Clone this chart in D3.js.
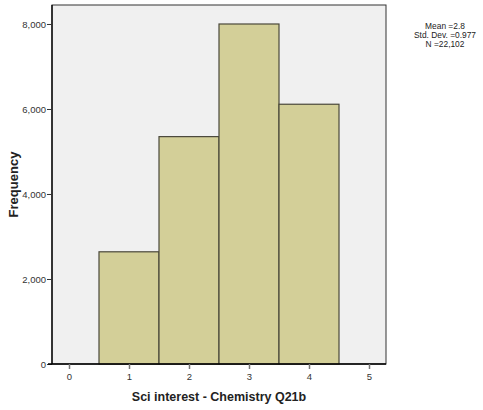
<!DOCTYPE html>
<html>
<head>
<meta charset="utf-8">
<script src="https://cdn.jsdelivr.net/npm/d3@7"></script>
<style>
  body { margin: 0; background: #fff; }
  text { font-family: "Liberation Sans", Arial, sans-serif; }
</style>
</head>
<body>
<div id="chart"></div>
<script>
var svgWidth = 483;
var svgHeight = 410;

// histogram data
var binCenters = [1, 2, 3, 4];
var frequencies = [2640, 5350, 8000, 6112];
var xTicks = [0, 1, 2, 3, 4, 5];
var yTicks = [0, 2000, 4000, 6000, 8000];
var statsLines = ["Mean =2.8", "Std. Dev. =0.977", "N =22,102"];

var plot = { left: 52, top: 5, right: 386, bottom: 364 };

var svg = d3.select("#chart")
  .append("svg")
  .attr("width", svgWidth)
  .attr("height", svgHeight);

var x = d3.scaleLinear()
  .domain([-0.2833, 5.2833])
  .range([plot.left, plot.right]);
var y = d3.scaleLinear()
  .domain([0, 8447])
  .range([plot.bottom, plot.top]);

// plot background
svg.append("rect")
  .attr("x", plot.left)
  .attr("y", plot.top)
  .attr("width", plot.right - plot.left)
  .attr("height", plot.bottom - plot.top)
  .attr("fill", "#f0f0f0")
  .attr("stroke", "#333")
  .attr("stroke-width", 1);

// bars
svg.selectAll("rect.bar")
  .data(binCenters)
  .enter()
  .append("rect")
  .attr("class", "bar")
  .attr("x", d => x(d - 0.5))
  .attr("y", (d, i) => y(frequencies[i]))
  .attr("width", d => x(d + 0.5) - x(d - 0.5))
  .attr("height", (d, i) => y(0) - y(frequencies[i]))
  .attr("fill", "#d3cf98")
  .attr("stroke", "#4a483a")
  .attr("stroke-width", 1.2);

// y axis
var leftAxis = d3.axisLeft(y)
  .tickValues(yTicks)
  .tickSize(5)
  .tickPadding(1)
  .tickFormat(d3.format(","));
var gy = svg.append("g")
  .attr("transform", `translate(${plot.left},0)`)
  .call(leftAxis);
gy.select(".domain").attr("stroke", "#000").attr("stroke-width", 1.3)
  .attr("d", `M0,${plot.top}V${plot.bottom}`);
gy.selectAll(".tick line").attr("stroke", "#333");
gy.selectAll(".tick text").attr("font-size", 9.5).attr("fill", "#333")
  .style("font-family", "Liberation Sans, Arial, sans-serif");

// x axis
var bottomAxis = d3.axisBottom(x)
  .tickValues(xTicks)
  .tickSize(5)
  .tickPadding(4)
  .tickFormat(d3.format("d"));
var gx = svg.append("g")
  .attr("transform", `translate(0,${plot.bottom})`)
  .call(bottomAxis);
gx.select(".domain").attr("stroke", "#000").attr("stroke-width", 1.3)
  .attr("d", `M${plot.left - 4},0H${plot.right}`);
gx.selectAll(".tick line").attr("stroke", "#777").attr("stroke-width", 1.5);
gx.selectAll(".tick text").attr("font-size", 9.5).attr("fill", "#333")
  .style("font-family", "Liberation Sans, Arial, sans-serif");

// axis titles
svg.append("text")
  .attr("transform", `translate(18, ${(plot.top + plot.bottom) / 2}) rotate(-90)`)
  .attr("text-anchor", "middle")
  .attr("font-size", 13)
  .attr("font-weight", "bold")
  .attr("fill", "#222")
  .text("Frequency");

svg.append("text")
  .attr("x", (plot.left + plot.right) / 2)
  .attr("y", 401)
  .attr("text-anchor", "middle")
  .attr("font-size", 12.5)
  .attr("font-weight", "bold")
  .attr("fill", "#222")
  .text("Sci interest - Chemistry Q21b");

// stats box
svg.selectAll("text.stats")
  .data(statsLines)
  .enter()
  .append("text")
  .attr("class", "stats")
  .attr("x", 445)
  .attr("y", (d, i) => 29 + i * 9)
  .attr("text-anchor", "middle")
  .attr("font-size", 8.4)
  .attr("fill", "#222")
  .text(d => d);
</script>
</body>
</html>
